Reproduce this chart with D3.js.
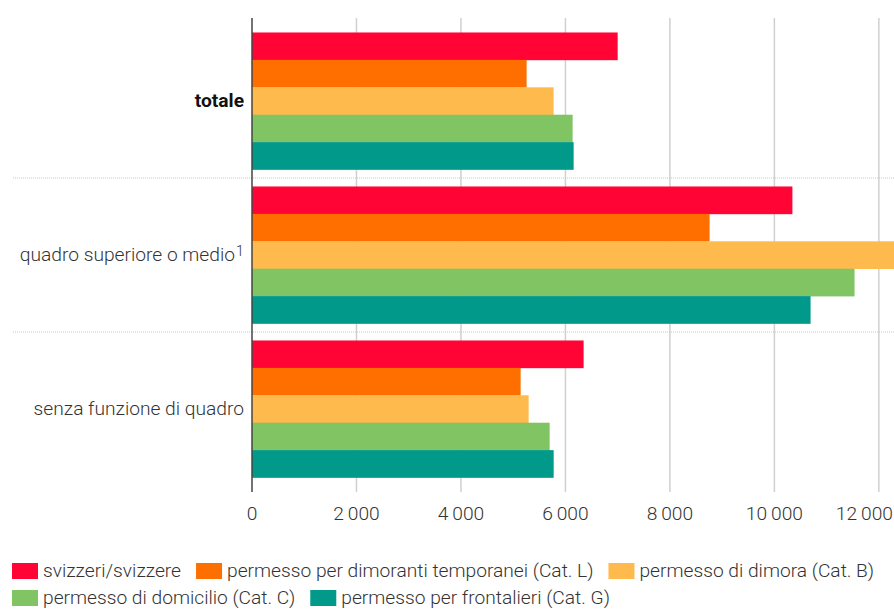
<!DOCTYPE html>
<html>
<head>
<meta charset="utf-8">
<script src="https://cdn.jsdelivr.net/npm/d3@7"></script>
<style>
  body { margin: 0; background: #fff; }
  text { font-family: Roboto, "Noto Sans", sans-serif; fill: #333; }
</style>
</head>
<body>
<svg id="chart" width="894" height="610"></svg>
<script>
// categories (rows) and the five permit series
var categories = ["totale", "quadro superiore o medio", "senza funzione di quadro"];
var seriesNames = [
  "svizzeri/svizzere",
  "permesso per dimoranti temporanei (Cat. L)",
  "permesso di dimora (Cat. B)",
  "permesso di domicilio (Cat. C)",
  "permesso per frontalieri (Cat. G)"
];
var colors = ["#ff0435", "#ff6f00", "#ffba4e", "#81c464", "#00998a"];

// one array per series, in category order
var svizzeri    = [7000, 10345, 6348];
var catL        = [5257, 8760, 5143];
var catB        = [5774, 12290, 5296];
var catC        = [6138, 11535, 5698];
var catG        = [6157, 10693, 5775];
var seriesValues = [svizzeri, catL, catB, catC, catG];

var tickValues = [0, 2000, 4000, 6000, 8000, 10000, 12000];

var W = 894, H = 610;
var margin = {top: 18, right: 0, bottom: 118, left: 252};
var FS = "19.2px";
var svg = d3.select("#chart");

var x = d3.scaleLinear()
    .domain([0, d3.max(seriesValues, s => d3.max(s))])
    .range([margin.left, W - margin.right]);

var y = d3.scaleBand()
    .domain(categories)
    .range([margin.top, H - margin.bottom])
    .paddingInner(0.11)
    .paddingOuter(0.094);

var ySub = d3.scaleBand()
    .domain(d3.range(seriesNames.length))
    .range([0, y.bandwidth()]);

// vertical grid lines
svg.append("g").selectAll("line")
    .data(tickValues.filter(d => d > 0))
    .enter().append("line")
    .attr("x1", d => x(d)).attr("x2", d => x(d))
    .attr("y1", margin.top).attr("y2", H - margin.bottom)
    .attr("stroke", "#d0d0d0").attr("stroke-width", 1.5);

// dotted separators between groups
svg.append("g").selectAll("line")
    .data(categories.slice(1))
    .enter().append("line")
    .attr("x1", 13).attr("x2", W)
    .attr("y1", d => y(d) - y.step() * y.paddingInner() / 2)
    .attr("y2", d => y(d) - y.step() * y.paddingInner() / 2)
    .attr("stroke", "#c8c8c8").attr("stroke-width", 1)
    .attr("stroke-dasharray", "1,1");

// bars
var rows = [];
categories.forEach(function(c, ci) {
  seriesValues.forEach(function(s, si) {
    rows.push({cat: c, series: si, value: s[ci]});
  });
});

svg.append("g").selectAll("rect")
    .data(rows)
    .enter().append("rect")
    .attr("x", x(0))
    .attr("y", d => y(d.cat) + ySub(d.series))
    .attr("width", d => x(d.value) - x(0))
    .attr("height", ySub.bandwidth() + 0.3)
    .attr("fill", d => colors[d.series]);

// zero axis line
svg.append("line")
    .attr("x1", x(0)).attr("x2", x(0))
    .attr("y1", margin.top).attr("y2", H - margin.bottom)
    .attr("stroke", "#444").attr("stroke-width", 1.5);

// x tick labels
var fmt = d => d3.format(",")(d).replace(/,/g, "\u2009");
svg.append("g").selectAll("text")
    .data(tickValues)
    .enter().append("text")
    .attr("x", d => x(d))
    .attr("y", 520)
    .attr("text-anchor", "middle")
    .style("font-size", FS)
    .style("font-weight", 300)
    .text(fmt)
    .each(function() {
      var bb = this.getBBox();
      if (bb.x + bb.width > W - 1) {
        d3.select(this).attr("text-anchor", "end").attr("x", W - 1);
      }
    });

// category labels
var labG = svg.append("g");
categories.forEach(function(c, i) {
  labG.append("text")
      .attr("x", i === 1 ? 235 : 244)
      .attr("y", y(c) + y.bandwidth() / 2 + 6)
      .attr("text-anchor", "end")
      .style("font-size", FS)
      .style("font-weight", i === 0 ? 700 : 300)
      .style("fill", i === 0 ? "#111" : "#333")
      .text(c);
  if (i === 1) {
    labG.append("text")
      .attr("x", 236)
      .attr("y", y(c) + y.bandwidth() / 2 + 1)
      .style("font-size", "14px")
      .style("font-weight", 300)
      .text("1");
  }
});

// legend, flowing into rows
var legend = svg.append("g");
var lx = 12, ly = 563, rowH = 27;
seriesNames.forEach(function(name, i) {
  var g = legend.append("g");
  g.append("rect")
    .attr("width", 26).attr("height", 16)
    .attr("fill", colors[i]);
  var t = g.append("text")
    .attr("x", 31).attr("y", 14)
    .style("font-size", FS)
    .style("font-weight", 300)
    .text(name);
  var w = 31 + t.node().getComputedTextLength();
  if (lx + w > W - 4) { lx = 12; ly += rowH; }
  g.attr("transform", "translate(" + lx + "," + ly + ")");
  lx += w + 15;
});
</script>
</body>
</html>
